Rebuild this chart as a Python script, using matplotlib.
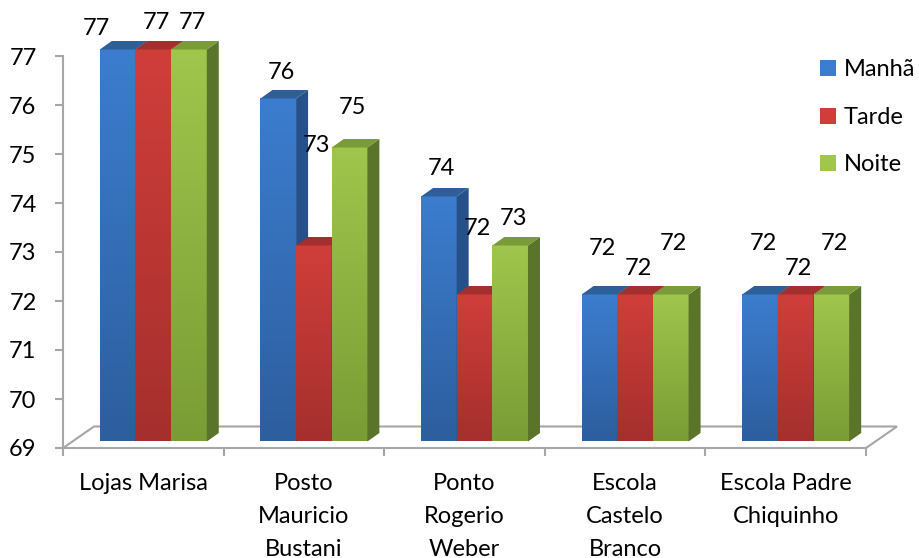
import numpy as np
import matplotlib
matplotlib.use("Agg")
import matplotlib.pyplot as plt
from matplotlib.patches import Polygon, Patch
from matplotlib.colors import LinearSegmentedColormap

# data
categories = ["Lojas Marisa", "Posto\nMauricio\nBustani", "Ponto\nRogerio\nWeber",
              "Escola\nCastelo\nBranco", "Escola Padre\nChiquinho"]
series = ["Manhã", "Tarde", "Noite"]
manha = [77, 76, 74, 72, 72]
tarde = [77, 73, 72, 72, 72]
noite = [77, 75, 73, 72, 72]
y_ticks = [69, 70, 71, 72, 73, 74, 75, 76, 77]

# styling: (front top, front bottom, side, top face)
palette = [
    ("#3C7DCF", "#2D5E9E", "#25508A", "#2E5F98"),
    ("#D03E3A", "#A52F2D", "#8A2624", "#A3302E"),
    ("#A0C64C", "#7A9C35", "#5A7529", "#7A9B3A"),
]
# Excel's quirky data label lift above each bar top (pixels)
label_lift = [
    [21, 26, 28, 46, 51],
    [27, 100, 66, 26, 26],
    [27, 40, 27, 51, 51],
]
label_dx = [[-24, 0, 0, 0, 0], [0, 0, 0, 0, 0], [0, 0, 0, 0, 0]]

plt.rcParams["font.family"] = ["Lato", "DejaVu Sans"]
FS = 17
GRAY = "#A6A6A6"

W, H = 920, 558
fig = plt.figure(figsize=(W / 100, H / 100), dpi=100)
AX_L, AX_B, AX_W, AX_H = 63, 110, 803, 431
ax = fig.add_axes([AX_L / W, AX_B / H, AX_W / W, AX_H / H])
PX_Y = 49.0
Y0 = 69
Y1 = Y0 + AX_H / PX_Y
n = len(categories)
PX_X = AX_W / n


def dxy(px, py):
    return px / PX_X, py / PX_Y


bar_w = 0.222
fx, fy = dxy(10, 6.5)     # front plane of bars
sx, sy = dxy(12, 8.5)     # bar depth
grad = np.linspace(1, 0, 256).reshape(-1, 1)

for k, vals in enumerate([manha, tarde, noite]):
    c_top, c_bot, c_side, c_face = palette[k]
    cmap = LinearSegmentedColormap.from_list(f"g{k}", [c_bot, c_top])
    for i, v in enumerate(vals):
        z = 3 + k
        x0 = i + 0.5 + (k - 1.5) * bar_w + fx
        x1 = x0 + bar_w
        b0 = Y0 + fy
        t = v + fy
        ax.imshow(grad, extent=[x0, x1, b0, t], cmap=cmap, aspect="auto",
                  interpolation="bilinear", zorder=z, vmin=0, vmax=1)
        ax.add_patch(Polygon([(x1, b0), (x1 + sx, b0 + sy), (x1 + sx, t + sy), (x1, t)],
                             closed=True, fc=c_side, ec="none", zorder=z))
        ax.add_patch(Polygon([(x0, t), (x1, t), (x1 + sx, t + sy), (x0 + sx, t + sy)],
                             closed=True, fc=c_face, ec="none", zorder=z))
        ax.annotate(str(v), xy=((x0 + x1) / 2, v), xytext=(3 + label_dx[k][i], 6.5 + label_lift[k][i]),
                    textcoords="offset pixels", ha="center", va="center",
                    fontsize=FS, color="black", zorder=10, annotation_clip=False)

# floor outline
ddx, ddy = dxy(31, 21.5)
ax.plot([0, ddx, n + ddx, n], [Y0, Y0 + ddy, Y0 + ddy, Y0], color=GRAY, lw=1.5,
        zorder=1, clip_on=False, solid_joinstyle="miter")

ax.set_xlim(0, n)
ax.set_ylim(Y0, Y1)

for s in ["top", "right"]:
    ax.spines[s].set_visible(False)
for s in ["left", "bottom"]:
    ax.spines[s].set_color(GRAY)
    ax.spines[s].set_linewidth(1.5)
ax.spines["left"].set_bounds(69, 77)

ax.set_yticks(y_ticks)
ax.set_yticklabels([str(t) for t in y_ticks], fontsize=FS)
ax.tick_params(axis="y", length=6, width=1.5, color=GRAY, pad=13)

ax.set_xticks(np.arange(n) + 0.5)
ax.set_xticklabels(categories, fontsize=FS, linespacing=1.7)
ax.set_xticks(np.arange(n + 1), minor=True)
ax.tick_params(axis="x", which="major", length=0, pad=18)
ax.tick_params(axis="x", which="minor", length=6, width=1.5, color=GRAY)

handles = [Patch(facecolor=palette[k][0], edgecolor="none") for k in range(3)]
fig.legend(handles, series, loc="upper left", bbox_to_anchor=(811 / W, 1 - 50 / H),
           frameon=False, fontsize=FS, labelspacing=1.12, handlelength=0.68,
           handleheight=0.68, handletextpad=0.3, borderaxespad=0)

fig.savefig("out.png", dpi=100)
